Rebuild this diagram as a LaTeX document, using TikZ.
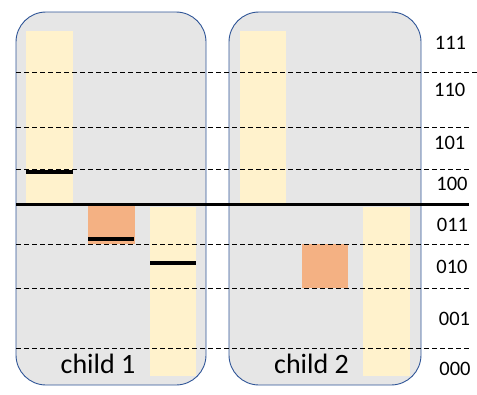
\documentclass[tikz,border=0pt]{standalone}
\usepackage{fontspec}
\setmainfont{Carlito}
\usetikzlibrary{positioning}
\definecolor{boxgray}{HTML}{E6E6E6}
\definecolor{boxblue}{HTML}{2F5597}
\definecolor{paleyel}{HTML}{FFF2CC}
\definecolor{salmon}{HTML}{F4B183}

\begin{document}
\begin{tikzpicture}[x=1pt,y=-1pt,
  childbox/.style={draw=boxblue,fill=boxgray,rounded corners=30pt,line width=0.9pt},
  bar/.style={fill=paleyel},
  blk/.style={fill=salmon},
  level/.style={dash pattern=on 5pt off 3pt,line width=0.9pt},
  markline/.style={line width=4pt},
  bits/.style={font=\fontsize{20.5}{24}\selectfont,inner sep=0pt},
  childlbl/.style={font=\fontsize{28}{32}\selectfont,inner sep=0pt}]
\useasboundingbox (0,0) rectangle (477,394);
% the two children
\draw[childbox] (16,12) rectangle (206,385);
\draw[childbox] (229,12) rectangle (421,385);
% occupied ranges
\fill[bar] (26,31) rectangle (73,204);
\fill[bar] (150,207) rectangle (196,376);
\fill[bar] (240,31) rectangle (286,204);
\fill[bar] (363,207) rectangle (410,376);
\fill[blk] (88,206) rectangle (135,244);
\fill[blk] (302,244) rectangle (348,288);
% level lines
\draw[level] (16,72) -- (477,72);
\foreach \y in {127,169,244,288,348}
  \draw[level] (16,\y) -- (469,\y);
\draw[line width=2.6pt] (16,204.5) -- (469,204.5);
% split marks
\draw[markline] (26,172) -- (73,172);
\draw[markline] (88,239) -- (134,239);
\draw[markline] (150,262.5) -- (196,262.5);
% labels
\node[childlbl] (c1) at (98,364) {child 1};
\node[childlbl] (c2) at (311.5,364) {child 2};
\node[bits] (b111) at (450.5,42.5) {111};
\node[bits] (b110) at (449.7,90) {110};
\node[bits] (b101) at (449.7,143) {101};
\node[bits] (b100) at (452,183.5) {100};
\node[bits] (b011) at (452.5,224.5) {011};
\node[bits] (b010) at (452,266.7) {010};
\node[bits] (b001) at (454.5,318.7) {001};
\node[bits] (b000) at (455,368.7) {000};
\end{tikzpicture}
\end{document}
